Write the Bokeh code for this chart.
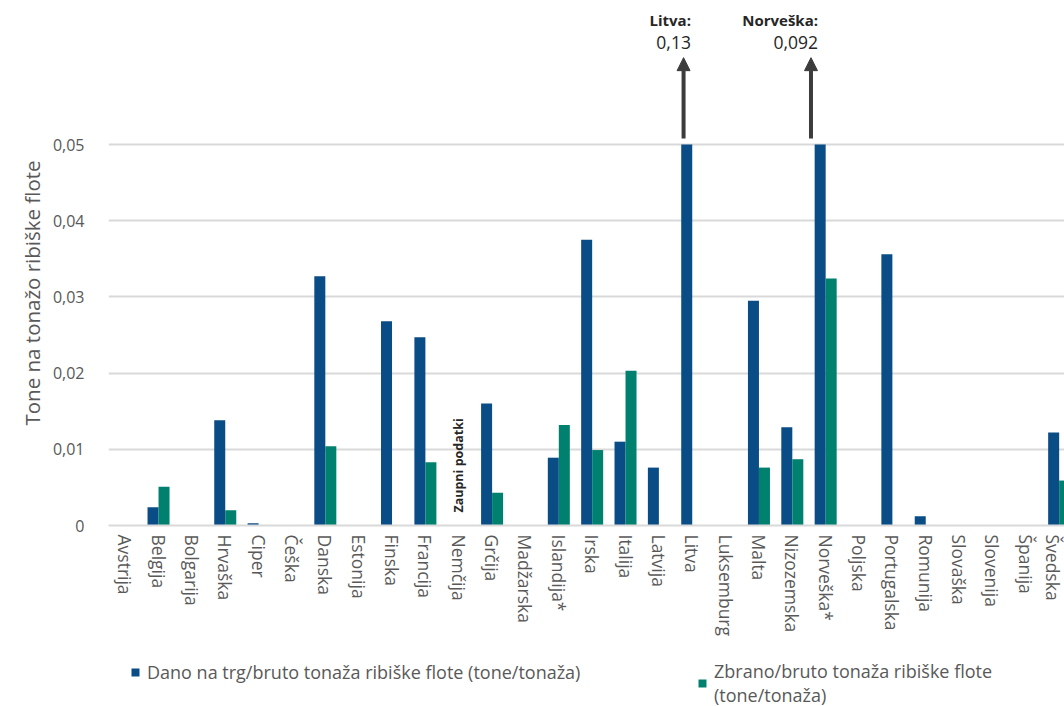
from bokeh.plotting import figure
from bokeh.layouts import column
from bokeh.models import (Range1d, FixedTicker, CustomJSTickFormatter, Legend,
                          LegendItem, Label, Arrow, NormalHead, ColumnDataSource, Title)
from bokeh.core.properties import value
from bokeh.embed import file_html
from bokeh.resources import INLINE

countries = ["Avstrija", "Belgija", "Bolgarija", "Hrvaška", "Ciper", "Češka", "Danska",
             "Estonija", "Finska", "Francija", "Nemčija", "Grčija", "Madžarska",
             "Islandija*", "Irska", "Italija", "Latvija", "Litva", "Luksemburg", "Malta",
             "Nizozemska", "Norveška*", "Poljska", "Portugalska", "Romunija", "Slovaška",
             "Slovenija", "Španija", "Švedska"]
landed = [0, 0.0024, 0, 0.0138, 0.0003, 0, 0.0327, 0, 0.0268, 0.0247, 0, 0.0160, 0,
          0.0089, 0.0375, 0.0110, 0.0076, 0.13, 0, 0.0295, 0.0129, 0.092, 0, 0.0356,
          0.0012, 0, 0, 0, 0.0122]
caught = [0, 0.0051, 0, 0.0020, 0, 0, 0.0104, 0, 0, 0.0083, 0, 0.0043, 0, 0.0132,
          0.0099, 0.0203, 0, 0, 0, 0.0076, 0.0087, 0.0324, 0, 0, 0, 0, 0, 0, 0.0059]
y_ticks = [0, 0.01, 0.02, 0.03, 0.04, 0.05]
confidential = "Nemčija"
confidential_text = "Zaupni podatki"
outliers = ["Litva", "Norveška*"]
outlier_names = ["Litva:", "Norveška:"]
series_names = ["Dano na trg/bruto tonaža ribiške flote (tone/tonaža)",
                "Zbrano/bruto tonaža ribiške flote\n(tone/tonaža)"]
y_title = "Tone na tonažo ribiške flote"

BLUE = "#0a4c86"
GREEN = "#00806e"
GRAY = "#595959"
DARK = "#262626"
ARROW = "#3c3c3c"
FONT = "Open Sans"
CAP = y_ticks[-1]
BW = 0.33

idx = list(range(len(countries)))
src = ColumnDataSource(dict(
    xb=[i - BW / 2 for i in idx],
    xg=[i + BW / 2 for i in idx],
    landed=[min(v, CAP) for v in landed],
    caught=[min(v, CAP) for v in caught],
))

p = figure(frame_width=956, frame_height=525, min_border_left=108, min_border_right=0,
           min_border_top=0, min_border_bottom=0,
           x_range=Range1d(-0.5, 28.16), y_range=Range1d(0, 0.0689),
           output_backend="svg", toolbar_location=None, background_fill_color="white",
           border_fill_color="white", outline_line_color=None)

rb = p.vbar(x="xb", top="landed", bottom=0, width=BW, source=src, fill_color=BLUE,
            line_color=None)
rg = p.vbar(x="xg", top="caught", bottom=0, width=BW, source=src, fill_color=GREEN,
            line_color=None)

# axes
p.xaxis.ticker = FixedTicker(ticks=idx)
p.xaxis.major_label_overrides = {i: c for i, c in zip(idx, countries)}
p.xaxis.major_label_orientation = "vertical"
p.xaxis.major_label_text_font = FONT
p.xaxis.major_label_text_font_size = "17.5px"
p.xaxis.major_label_text_color = GRAY
p.xaxis.major_label_standoff = 3
p.xaxis.axis_line_color = "#d9d9d9"
p.xaxis.axis_line_width = 2
p.xaxis.major_tick_line_color = None
p.xaxis.minor_tick_line_color = None

p.yaxis.ticker = FixedTicker(ticks=y_ticks)
p.yaxis.formatter = CustomJSTickFormatter(
    code="return tick == 0 ? '0' : tick.toFixed(2).replace('.', ',');")
p.yaxis.major_label_text_font = FONT
p.yaxis.major_label_text_font_size = "16px"
p.yaxis.major_label_text_color = GRAY
p.yaxis.major_label_standoff = 18
p.yaxis.axis_line_color = None
p.yaxis.major_tick_line_color = None
p.yaxis.minor_tick_line_color = None

# y-axis title, placed where the reference has it
p.add_layout(Title(text=y_title, align="left", offset=100, standoff=8,
                   text_font=FONT, text_font_size="20.5px", text_font_style="normal",
                   text_color=GRAY), "left")

p.xgrid.grid_line_color = None
p.ygrid.grid_line_color = "#d9d9d9"
p.ygrid.grid_line_width = 2

# confidential note
ci = countries.index(confidential)
p.text(x=[ci], y=[0.0017], text=[confidential_text], angle=1.5708,
       text_align="left", text_baseline="middle", text_font=value(FONT),
       text_font_size="12.5px", text_font_style="bold", text_color=DARK)

# arrows and labels for bars above the axis
arrow_dx = [-0.26, -0.44]
text_dx = [-0.04, -0.23]
for name, lab, adx, tdx in zip(outliers, outlier_names, arrow_dx, text_dx):
    i = countries.index(name)
    v = landed[i]
    p.add_layout(Arrow(end=NormalHead(size=13, fill_color=ARROW, line_color=ARROW),
                       x_start=i + adx, y_start=0.0508, x_end=i + adx, y_end=0.0614,
                       line_color=ARROW, line_width=4))
    p.add_layout(Label(x=i + tdx, y=0.0664, text=lab, text_align="right",
                       text_baseline="middle", text_font=FONT,
                       text_font_size="15px", text_font_style="bold", text_color=DARK))
    p.add_layout(Label(x=i + tdx, y=0.0634, text=str(v).replace(".", ","),
                       text_align="right", text_baseline="middle", text_font=FONT,
                       text_font_size="17.5px", text_color=DARK))

# legend strip below the chart
lg = figure(width=1064, height=70, min_border=0, x_range=Range1d(0, 1),
            y_range=Range1d(0, 1), output_backend="svg", toolbar_location=None,
            outline_line_color=None, border_fill_color="white",
            background_fill_color="white")
lg.axis.visible = False
lg.grid.visible = False
lb = lg.vbar(x=[0.5], top=[0], bottom=0, width=0.01, fill_color=BLUE, line_color=None)
lgn = lg.vbar(x=[0.5], top=[0], bottom=0, width=0.01, fill_color=GREEN, line_color=None)


def make_legend(label, rend, loc):
    return Legend(items=[LegendItem(label=label, renderers=[rend])], location=loc,
                  margin=0, padding=0, glyph_width=10, glyph_height=10,
                  label_standoff=7, label_text_font=FONT, label_text_font_size="18px",
                  label_text_line_height=1.33, label_text_color=GRAY,
                  border_line_color=None, background_fill_alpha=0)


lg.add_layout(make_legend(series_names[0], lb, (22, 25)))
lg.add_layout(make_legend(series_names[1], lgn, (589, 2)))

open("out.html", "w").write(file_html(column(p, lg, spacing=0), INLINE))
